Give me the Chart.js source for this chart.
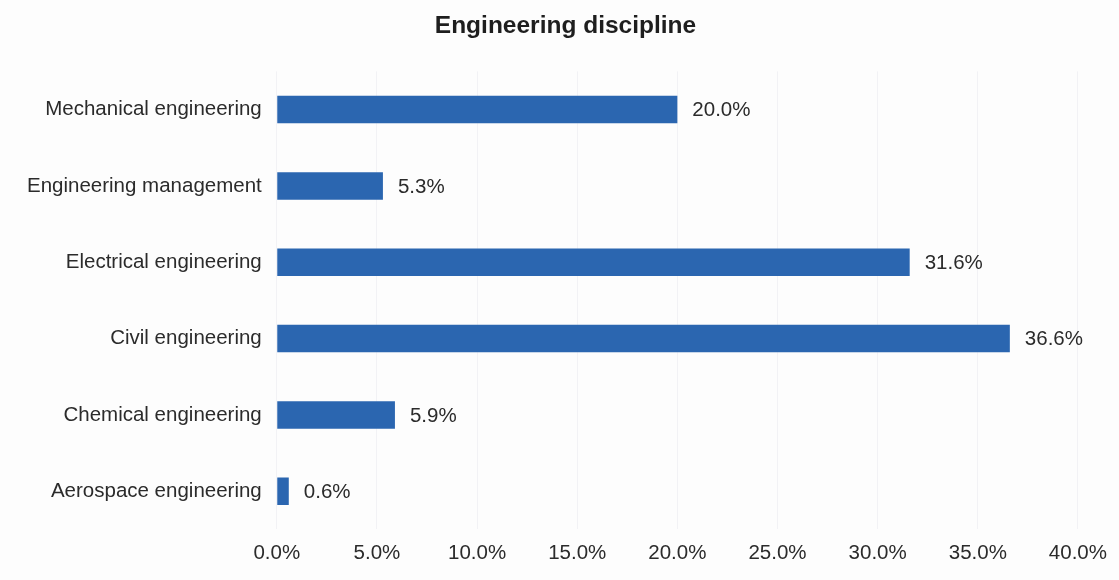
<!DOCTYPE html>
<html>
<head>
<meta charset="utf-8">
<script src="https://cdn.jsdelivr.net/npm/chart.js@4"></script>
<style>
    body { margin: 0; background: #fdfdfd; }
</style>
</head>
<body>
<canvas id="disciplineChart" width="1119" height="580"></canvas>
<script>
// Datos de la gráfica
var disciplinas = ['Mechanical engineering', 'Engineering management', 'Electrical engineering', 'Civil engineering', 'Chemical engineering', 'Aerospace engineering'];
var porcentajes = [20.0, 5.3, 31.6, 36.6, 5.9, 0.6];
var ticksX = [0, 5, 10, 15, 20, 25, 30, 35, 40];

var fuente = 'Liberation Sans, Arial, sans-serif';
var colorTexto = '#2b2b2b';

// Plugin para escribir el valor al lado de cada barra
var etiquetasValor = {
    id: 'etiquetasValor',
    afterDatasetsDraw: function(chart) {
        var ctx = chart.ctx;
        var meta = chart.getDatasetMeta(0);
        ctx.save();
        ctx.font = '20.5px ' + fuente;
        ctx.fillStyle = colorTexto;
        ctx.textAlign = 'left';
        ctx.textBaseline = 'middle';
        meta.data.forEach(function(bar, i) {
            ctx.fillText(porcentajes[i].toFixed(1) + '%', bar.x + 15, bar.y + 1);
        });
        ctx.restore();
    }
};

var ctx1 = document.getElementById('disciplineChart').getContext('2d');
var disciplineChart = new Chart(ctx1, {
    type: 'bar',
    data: {
        labels: disciplinas,
        datasets: [{
            data: porcentajes,
            backgroundColor: '#2b66b0',
            borderWidth: 0,
            barPercentage: 0.9,
            categoryPercentage: 0.4
        }]
    },
    options: {
        indexAxis: 'y',
        responsive: false,
        animation: false,
        layout: {
            padding: { left: 12, right: 0, top: 0, bottom: 2 }
        },
        scales: {
            x: {
                min: 0,
                max: 40,
                afterBuildTicks: function(axis) {
                    axis.ticks = ticksX.map(function(v) { return { value: v }; });
                },
                grid: { color: 'rgba(200, 200, 215, 0.2)', drawTicks: false },
                border: { display: false },
                ticks: {
                    color: colorTexto,
                    padding: 12,
                    maxRotation: 0,
                    font: { family: fuente, size: 20.5 },
                    callback: function(v) { return v.toFixed(1) + '%'; }
                }
            },
            y: {
                grid: { display: false, drawTicks: false },
                border: { display: false },
                ticks: {
                    color: colorTexto,
                    padding: 15,
                    font: { family: fuente, size: 20.5 }
                }
            }
        },
        plugins: {
            legend: { display: false },
            tooltip: { enabled: false },
            title: {
                display: true,
                text: 'Engineering discipline',
                color: '#1e1e1e',
                font: { family: fuente, size: 24.5, weight: 'bold' },
                padding: { top: 12, bottom: 30 }
            }
        }
    },
    plugins: [etiquetasValor]
});
</script>
</body>
</html>
